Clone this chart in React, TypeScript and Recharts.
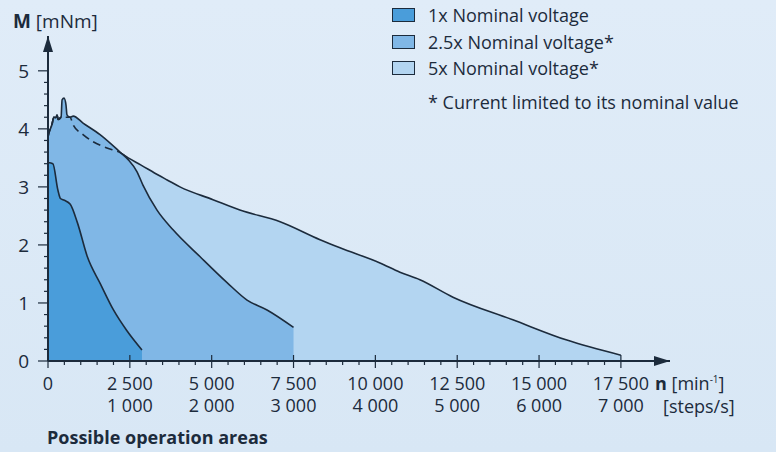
import React from "react";
import { ComposedChart, Area, Line, XAxis, YAxis, ReferenceDot } from "recharts";

// speed in min^-1, torque in mNm
const oneX = [0, 150, 300, 380, 500, 680, 900, 1200, 1600, 2000, 2400, 2870];
const oneY = [3.42, 3.4, 2.95, 2.8, 2.77, 2.7, 2.38, 1.8, 1.33, 0.88, 0.53, 0.19];

const twoHalfX = [0, 30, 120, 180, 240, 275, 310, 400, 430, 490, 550, 580, 670, 770, 1070, 1590, 2200, 2450, 2720, 2900, 3330, 3820, 4640, 5470, 6080, 6690, 7500];
const twoHalfY = [3.86, 3.93, 4.07, 4.2, 4.19, 4.24, 4.16, 4.2, 4.5, 4.53, 4.41, 4.24, 4.2, 4.22, 4.1, 3.9, 3.6, 3.47, 3.26, 3.03, 2.6, 2.26, 1.8, 1.35, 1.05, 0.88, 0.58];

// 5x: low part is current limited (dashed under the 2.5x area)
const fiveLowX = [0, 30, 120, 180, 240, 275, 310, 400, 670, 770, 1070, 1370, 1800, 2200, 2450];
const fiveLowY = [3.86, 3.93, 4.07, 4.2, 4.19, 4.24, 4.16, 4.2, 4.2, 4.07, 3.9, 3.78, 3.67, 3.59, 3.5];
const fiveHighX = [2830, 3380, 3640, 4030, 5040, 5860, 7090, 8310, 8920, 10140, 10750, 11360, 12370, 14200, 15850, 17500];
const fiveHighY = [3.38, 3.2, 3.12, 3.0, 2.78, 2.6, 2.4, 2.09, 1.95, 1.69, 1.53, 1.4, 1.1, 0.71, 0.36, 0.1];

const xTicks = [0, 500, 1000, 1500, 2000, 2500, 3000, 3500, 4000, 4500, 5000, 5500, 6000, 6500, 7000, 7500, 8000, 8500, 9000, 9500, 10000, 10500, 11000, 11500, 12000, 12500, 13000, 13500, 14000, 14500, 15000, 15500, 16000, 16500, 17000, 17500];
const xLabels: Record<number, string> = { 0: "0", 2500: "2 500", 5000: "5 000", 7500: "7 500", 10000: "10 000", 12500: "12 500", 15000: "15 000", 17500: "17 500" };
const stepLabels: Record<number, string> = { 2500: "1 000", 5000: "2 000", 7500: "3 000", 10000: "4 000", 12500: "5 000", 15000: "6 000", 17500: "7 000" };
const yTicks = [0, 0.2, 0.4, 0.6, 0.8, 1, 1.2, 1.4, 1.6, 1.8, 2, 2.2, 2.4, 2.6, 2.8, 3, 3.2, 3.4, 3.6, 3.8, 4, 4.2, 4.4, 4.6, 4.8, 5];

const seriesNames = ["1x Nominal voltage", "2.5x Nominal voltage*", "5x Nominal voltage*"];
const seriesColors = ["#4a9dda", "#80b7e6", "#b3d5f1"];

const toPoints = (xs: number[], ys: number[]) => xs.map((x, i) => ({ x, y: ys[i] }));

const oneData = toPoints(oneX, oneY);
const twoHalfData = toPoints(twoHalfX, twoHalfY);
const fiveLowData = toPoints(fiveLowX, fiveLowY);
const fiveData = toPoints([...fiveLowX, ...fiveHighX], [...fiveLowY, ...fiveHighY]);

const INK = "#1c2b3c";
const FONT = "'Open Sans', sans-serif";

const XTick = (props: any) => {
  const { x, y, payload } = props;
  const v = payload.value;
  const major = v % 2500 === 0;
  return (
    <g>
      <line x1={x} x2={x} y1={major ? y - 6 : y} y2={major ? y + 7 : y + 4} stroke={INK} strokeWidth={1.2} />
      {major && (
        <text x={x} y={y + 29} textAnchor="middle" fontSize={18} fill={INK} fontFamily={FONT}>
          {xLabels[v]}
        </text>
      )}
      {major && stepLabels[v] && (
        <text x={x} y={y + 51} textAnchor="middle" fontSize={18} fill={INK} fontFamily={FONT}>
          {stepLabels[v]}
        </text>
      )}
    </g>
  );
};

const YTick = (props: any) => {
  const { x, y, payload } = props;
  const v = payload.value;
  const major = Math.abs(v - Math.round(v)) < 1e-6;
  return (
    <g>
      <line x1={major ? x - 10 : x - 4} x2={x} y1={y} y2={y} stroke={INK} strokeWidth={1.2} />
      {major && (
        <text x={x - 19} y={y + 7} textAnchor="end" fontSize={19} fill={INK} fontFamily={FONT}>
          {Math.round(v)}
        </text>
      )}
    </g>
  );
};

const ArrowRight = (props: any) => {
  const { cx, cy } = props;
  return <path d={`M${cx},${cy} L${cx - 16},${cy - 5} L${cx - 16},${cy + 5} Z`} fill={INK} />;
};

const ArrowUp = (props: any) => {
  const { cx, cy } = props;
  return <path d={`M${cx},${cy} L${cx - 5},${cy + 16} L${cx + 5},${cy + 16} Z`} fill={INK} />;
};

export default function App() {
  return (
    <div
      style={{
        position: "absolute",
        left: 0,
        top: 0,
        width: 776,
        height: 452,
        background: "linear-gradient(180deg, #e0ecf8 0%, #d8e7f5 100%)",
        fontFamily: FONT,
        color: INK,
        overflow: "hidden",
      }}
    >
      <ComposedChart width={776} height={452} margin={{ top: 36, right: 106, bottom: 0, left: 0 }}>
        <XAxis
          dataKey="x"
          type="number"
          domain={[0, 19000]}
          ticks={xTicks}
          interval={0}
          tickSize={0}
          tickMargin={0}
          tickLine={false}
          tick={<XTick />}
          axisLine={{ stroke: INK, strokeWidth: 2 }}
          height={91}
          allowDataOverflow
        />
        <YAxis
          type="number"
          domain={[0, 5.6]}
          ticks={yTicks}
          interval={0}
          tickSize={0}
          tickMargin={0}
          tickLine={false}
          tick={<YTick />}
          axisLine={{ stroke: INK, strokeWidth: 2 }}
          width={48}
          allowDataOverflow
        />
        <Area data={fiveData} dataKey="y" type="monotone" fill={seriesColors[2]} fillOpacity={1} stroke={INK} strokeWidth={1.6} isAnimationActive={false} />
        <Area data={twoHalfData} dataKey="y" type="monotone" fill={seriesColors[1]} fillOpacity={1} stroke={INK} strokeWidth={1.6} isAnimationActive={false} />
        <Area data={oneData} dataKey="y" type="monotone" fill={seriesColors[0]} fillOpacity={1} stroke={INK} strokeWidth={1.6} isAnimationActive={false} />
        <Line data={fiveLowData} dataKey="y" type="monotone" stroke={INK} strokeWidth={1.6} strokeDasharray="8 5" dot={false} isAnimationActive={false} />
        <ReferenceDot x={19000} y={0} ifOverflow="visible" shape={<ArrowRight />} />
        <ReferenceDot x={0} y={5.6} ifOverflow="visible" shape={<ArrowUp />} />
      </ComposedChart>

      <div style={{ position: "absolute", left: 13, top: 8, fontSize: 19, whiteSpace: "nowrap" }}>
        <b>M</b> [mNm]
      </div>

      <div style={{ position: "absolute", left: 392, top: 2 }}>
        {seriesNames.map((name, i) => (
          <div key={name} style={{ display: "flex", alignItems: "center", height: 26.5, fontSize: 18, whiteSpace: "nowrap" }}>
            <span style={{ display: "inline-block", width: 21, height: 12, background: seriesColors[i], border: `1.5px solid ${INK}`, marginRight: 13 }} />
            {name}
          </div>
        ))}
        <div style={{ marginTop: 8, marginLeft: 36, fontSize: 18, whiteSpace: "nowrap" }}>* Current limited to its nominal value</div>
      </div>

      <div style={{ position: "absolute", left: 655, top: 371, fontSize: 18, whiteSpace: "nowrap" }}>
        <b>n</b> [min<sup style={{ fontSize: 10 }}>-1</sup>]
      </div>
      <div style={{ position: "absolute", left: 663, top: 394, fontSize: 18, whiteSpace: "nowrap" }}>[steps/s]</div>
      <div style={{ position: "absolute", left: 47, top: 425, fontSize: 18, lineHeight: "24px", fontWeight: 700, whiteSpace: "nowrap" }}>
        Possible operation areas
      </div>
    </div>
  );
}
